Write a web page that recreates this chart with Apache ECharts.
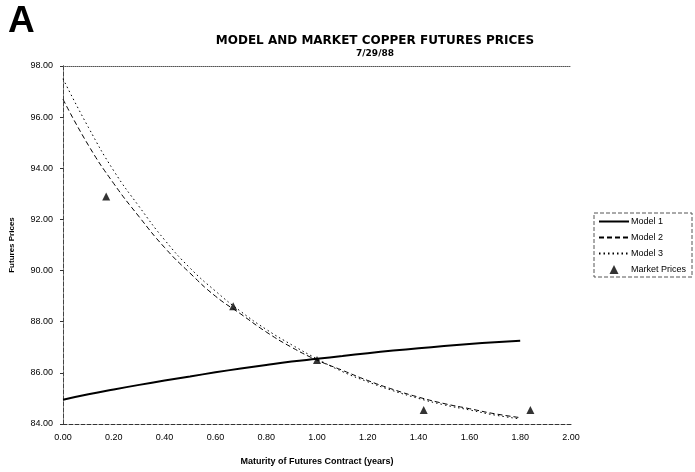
<!DOCTYPE html>
<html>
<head>
<meta charset="utf-8">
<script src="https://cdn.jsdelivr.net/npm/echarts@6/dist/echarts.min.js"></script>
<style>
html,body{margin:0;padding:0;background:#fff;}
#c{width:695px;height:472px;}
</style>
</head>
<body>
<div id="c"></div>
<script>
// ---- data ----
const maturities = [0.0,0.1,0.2,0.3,0.4,0.5,0.6,0.7,0.8,0.9,1.0,1.1,1.2,1.3,1.4,1.5,1.6,1.7,1.8];
const model1 = [84.95,85.16,85.35,85.53,85.70,85.86,86.02,86.17,86.31,86.44,86.55,86.66,86.77,86.87,86.96,87.05,87.13,87.20,87.26];
const model2 = [96.70,94.90,93.40,92.10,90.90,89.90,89.00,88.30,87.60,87.00,86.50,86.10,85.70,85.35,85.05,84.80,84.60,84.40,84.25];
const model3 = [97.50,95.60,93.90,92.50,91.20,90.10,89.20,88.40,87.70,87.10,86.55,86.05,85.65,85.30,85.00,84.75,84.55,84.35,84.20];
const marketX = [0.17,0.67,1.00,1.42,1.84];
const marketY = [92.90,88.60,86.50,84.55,84.55];
const seriesNames = ['Model 1','Model 2','Model 3','Market Prices'];

const pair = (xs, ys) => xs.map((x,i)=>[x, ys[i]]);
const font = 'Liberation Sans, Arial, sans-serif';
const wideFont = 'DejaVu Sans, Liberation Sans, sans-serif';

const chart = echarts.init(document.getElementById('c'), null, {renderer:'canvas'});
chart.setOption({
  backgroundColor:'#fff',
  animation:false,
  title:[
    {text:'A', left:3, top:-2, textStyle:{fontFamily:font, fontSize:37, fontWeight:'bold', color:'#000'}},
    {text:'MODEL AND MARKET COPPER FUTURES PRICES', subtext:'7/29/88', left:370, top:30, textAlign:'center', itemGap:2,
     textStyle:{fontFamily:wideFont, fontSize:12, fontWeight:'bold', color:'#000'},
     subtextStyle:{fontFamily:wideFont, fontSize:9, fontWeight:'bold', color:'#000'}}
  ],
  grid:{left:63, right:124, top:66, bottom:48, containLabel:false},
  legend:{
    orient:'vertical', left:594, top:213, itemWidth:30, itemHeight:9, itemGap:7,
    data:seriesNames.map((n,i)=> i<3 ? {name:n, itemStyle:{opacity:0}} : {name:n, icon:'path://M5,0 L10,10 L0,10 Z'}),
    textStyle:{fontFamily:font, fontSize:9, color:'#000', padding:[0,0,0,-3]},
    borderColor:'#555', borderWidth:1, borderType:'dashed', padding:[4,6,3,4]
  },
  xAxis:[{
    type:'value', min:0, max:2, interval:0.2,
    name:'Maturity of Futures Contract (years)', nameLocation:'middle', nameGap:33,
    nameTextStyle:{fontFamily:font, fontSize:9, fontWeight:'bold', color:'#000'},
    axisLine:{show:true, lineStyle:{color:'#333', type:'dashed', width:1}},
    axisTick:{show:false},
    axisLabel:{fontFamily:font, fontSize:9, color:'#000', margin:9, formatter:v=>v.toFixed(2)},
    splitLine:{show:false}
  },{
    type:'value', position:'top', min:0, max:2,
    axisLine:{show:true, lineStyle:{color:'#555', type:'dotted', width:1}},
    axisTick:{show:false}, axisLabel:{show:false}, splitLine:{show:false}
  }],
  yAxis:[{
    type:'value', min:84, max:98, interval:2,
    name:'Futures Prices', nameLocation:'middle', nameGap:47, nameRotate:90,
    nameTextStyle:{fontFamily:font, fontSize:8, fontWeight:'bold', color:'#000'},
    axisLine:{show:true, lineStyle:{color:'#333', type:'dashed', width:1}},
    axisTick:{show:true, inside:false, length:3, lineStyle:{color:'#333'}},
    axisLabel:{fontFamily:font, fontSize:9, color:'#000', margin:10, formatter:v=>v.toFixed(2)},
    splitLine:{show:false}
  },{
    type:'value', position:'right', min:84, max:98,
    axisLine:{show:true, lineStyle:{color:'#444', type:'dashed', width:1}},
    axisTick:{show:false}, axisLabel:{show:false}, splitLine:{show:false}
  }],
  series:[
    {name:'Model 1', type:'line', data:pair(maturities, model1), showSymbol:false, symbol:'none', smooth:true,
     lineStyle:{color:'#000', width:2, type:'solid'}, itemStyle:{color:'#000'}},
    {name:'Model 2', type:'line', data:pair(maturities, model2), showSymbol:false, symbol:'none', smooth:true,
     lineStyle:{color:'#000', width:1, type:[5,3]}, itemStyle:{color:'#000'}},
    {name:'Model 3', type:'line', data:pair(maturities, model3), showSymbol:false, symbol:'none', smooth:true,
     lineStyle:{color:'#000', width:1, type:[1.5,3]}, itemStyle:{color:'#000'}},
    {name:'Market Prices', type:'scatter', data:pair(marketX, marketY), symbol:'triangle', symbolSize:8,
     itemStyle:{color:'#000'}}
  ]
});
</script>
</body>
</html>
